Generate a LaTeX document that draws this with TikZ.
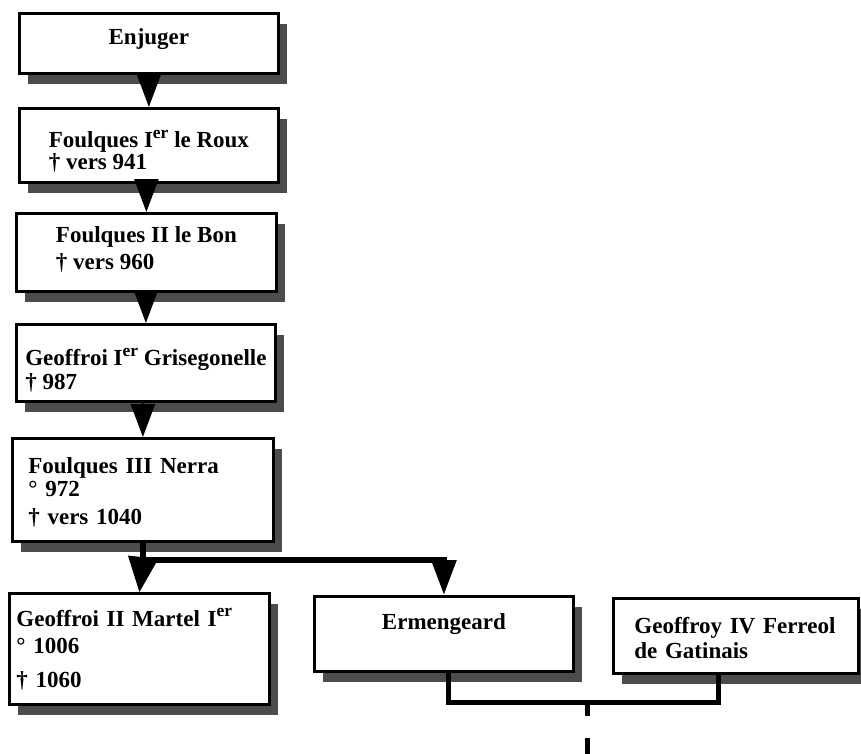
\documentclass[tikz,border=0pt]{standalone}
\usepackage{fontspec}
\setmainfont{Liberation Serif}
\usepackage{tikz}
\usetikzlibrary{arrows.meta,positioning,shadows,calc}

\newcommand\expo[1]{\raisebox{0.42em}{\fontsize{17.5}{17.5}\selectfont #1}}

\begin{document}
\begin{tikzpicture}[
  x=1pt, y=-1pt,
  person/.style={draw, line width=2.8pt, fill=white, anchor=north west,
                 align=left, inner sep=0pt, text depth=5pt,
                 font=\fontsize{23}{23.5}\selectfont\bfseries,
                 drop shadow={shadow xshift=9pt, shadow yshift=-11pt,
                              fill=black!70, opacity=1}},
  link/.style={-{Triangle[length=33pt, width=24pt]}, line width=2.5pt},
  bar/.style={line width=6pt},
  wed/.style={line width=5pt},
]
\useasboundingbox (0,0) rectangle (861,753);

% ligne directe
\node[person, minimum width=259pt, minimum height=60pt, text depth=13pt]
  (enj) at (18,12) {Enjuger};
\node[person, minimum width=259pt, minimum height=74pt, text height=53pt]
  (roux) at (18,107) {Foulques I\expo{er} le Roux\\[-2pt]† vers 941};
\node[person, minimum width=260pt, minimum height=78pt, text height=39pt]
  (bon) at (15,212) {Foulques II le Bon\\[3pt]† vers 960};
\node[person, minimum width=259pt, minimum height=77pt, text height=58pt]
  (gris) at (15,323) {Geoffroi I\expo{er} Grisegonelle\\† 987};
\node[person, minimum width=261pt, minimum height=103pt,
      text height=22pt, text depth=55pt, inner xsep=16pt, text width=229pt]
  (nerra) at (11,437) {Foulques III Nerra\\° 972\\[4pt]† vers 1040};

% enfants
\node[person, minimum width=260pt, minimum height=111pt,
      text height=20pt, text depth=65pt, inner xsep=7pt, text width=246pt]
  (martel) at (8,592) {Geoffroi II Martel I\expo{er}\\[4pt]° 1006\\[10pt]† 1060};
\node[person, minimum width=259pt, minimum height=75pt, text depth=25pt]
  (erm) at (313,595) {Ermengeard};
\node[person, minimum width=245pt, minimum height=75pt,
      text height=25pt, text depth=30pt, inner xsep=21pt, text width=203pt]
  (geof) at (612,597) {Geoffroy IV Ferreol\\[2pt]de Gatinais};

\draw[link] (roux.north |- enj.south) -- (roux.north);
\draw[link] (bon.north |- roux.south) -- (bon.north);
\draw[link] (gris.north |- bon.south) -- (gris.north);
\draw[link] (nerra.north |- gris.south) -- (nerra.north);

\coordinate[below=17pt of nerra.south] (fork);
\draw[bar, -{Triangle[length=35pt, width=24pt]}] (nerra.south) -- (fork) -| (erm.north);
\draw[link, -{Triangle[length=35pt, width=30pt]}] (fork) -- (martel.north);

% mariage
\coordinate[below=30pt of erm.south, xshift=5pt] (wedl);
\draw[wed] ([xshift=5pt]erm.south) -- (wedl) -| ([xshift=-17pt]geof.south);
\coordinate (wedm) at ($(wedl)+(139pt,0pt)$);
\draw[wed] (wedm) -- ++(0pt,-13pt);
\draw[wed] ([yshift=-35pt]wedm) -- ++(0pt,-25pt);
\end{tikzpicture}
\end{document}
